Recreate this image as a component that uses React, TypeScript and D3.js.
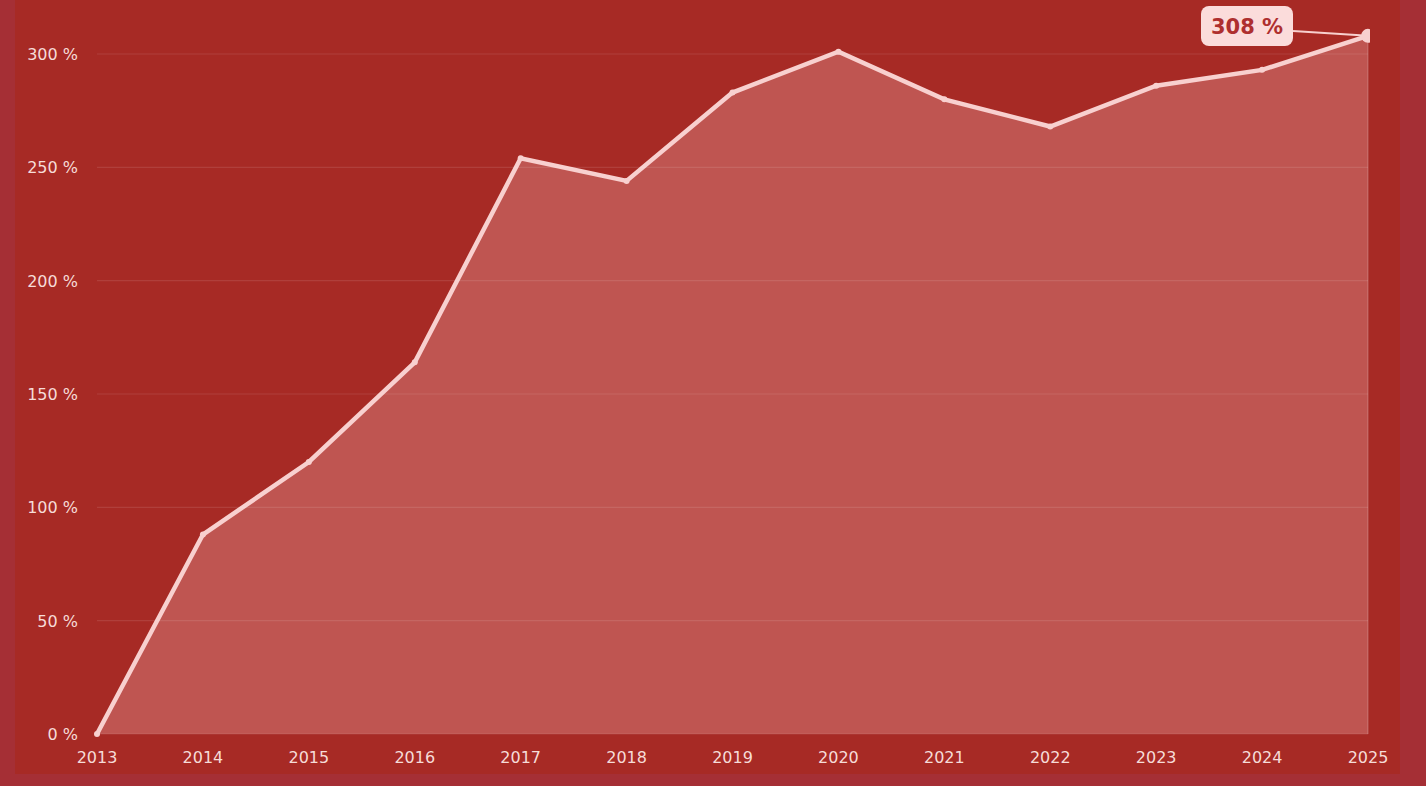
import React, { useEffect, useRef } from 'react';
import * as d3 from 'd3';

const years = [2013, 2014, 2015, 2016, 2017, 2018, 2019, 2020, 2021, 2022, 2023, 2024, 2025];
const growth = [0, 88, 120, 164, 254, 244, 283, 301, 280, 268, 286, 293, 308];
const yTicks = [0, 50, 100, 150, 200, 250, 300];

const GrowthChart: React.FC = () => {
  const svgRef = useRef<SVGSVGElement>(null);

  useEffect(() => {
    if (!svgRef.current) return;
    document.body.style.margin = '0';

    const width = 1426;
    const height = 786;
    const margin = { top: 37, right: 58, bottom: 52, left: 97 };

    const svg = d3.select(svgRef.current);
    svg.selectAll('*').remove();
    svg.attr('width', width).attr('height', height);

    // outer frame + inner panel
    svg.append('rect').attr('width', width).attr('height', height).attr('fill', '#a52f35');
    svg.append('rect')
      .attr('x', 15).attr('y', 0)
      .attr('width', 1385).attr('height', 774)
      .attr('fill', '#a72a25');

    const data = years.map((y, i) => ({ year: y, value: growth[i] }));

    const x = d3.scaleLinear()
      .domain([years[0], years[years.length - 1]])
      .range([margin.left, width - margin.right]);

    const y = d3.scaleLinear()
      .domain([0, 300])
      .range([height - margin.bottom, 54]);

    svg.append('clipPath').attr('id', 'plot-clip')
      .append('rect')
      .attr('x', margin.left - 4).attr('y', 0)
      .attr('width', x.range()[1] - margin.left + 6)
      .attr('height', y(0) + 4);

    const plot = svg.append('g').attr('clip-path', 'url(#plot-clip)');

    const area = d3.area<{ year: number; value: number }>()
      .x(d => x(d.year))
      .y0(y(0))
      .y1(d => y(d.value));

    plot.append('path')
      .datum(data)
      .attr('d', area)
      .attr('fill', '#bf5551');

    // right edge of area
    plot.append('line')
      .attr('x1', x(2025)).attr('x2', x(2025))
      .attr('y1', y(growth[growth.length - 1])).attr('y2', y(0))
      .attr('stroke', '#ffffff').attr('stroke-opacity', 0.12).attr('stroke-width', 2);

    // grid
    svg.append('g')
      .selectAll('line')
      .data(yTicks)
      .enter()
      .append('line')
      .attr('x1', margin.left)
      .attr('x2', x(2025))
      .attr('y1', d => y(d))
      .attr('y2', d => y(d))
      .attr('stroke', '#ffffff')
      .attr('stroke-opacity', 0.1)
      .attr('stroke-width', 1.2);

    const line = d3.line<{ year: number; value: number }>()
      .x(d => x(d.year))
      .y(d => y(d.value));

    plot.append('path')
      .datum(data)
      .attr('d', line)
      .attr('fill', 'none')
      .attr('stroke', '#f8d0cf')
      .attr('stroke-width', 4.5)
      .attr('stroke-linejoin', 'miter');

    plot.append('g')
      .selectAll('circle')
      .data(data.slice(0, -1))
      .enter()
      .append('circle')
      .attr('cx', d => x(d.year))
      .attr('cy', d => y(d.value))
      .attr('r', 3)
      .attr('fill', '#f8d0cf');

    const last = data[data.length - 1];
    plot.append('circle')
      .attr('cx', x(last.year))
      .attr('cy', y(last.value))
      .attr('r', 7)
      .attr('fill', '#f8d0cf');

    // y labels
    svg.append('g')
      .selectAll('text')
      .data(yTicks)
      .enter()
      .append('text')
      .attr('x', 78)
      .attr('y', d => y(d))
      .attr('dy', '0.38em')
      .attr('text-anchor', 'end')
      .attr('font-family', 'DejaVu Sans, sans-serif')
      .attr('font-size', 16)
      .attr('fill', '#f6dcd8')
      .text(d => `${d} %`);

    // x labels
    svg.append('g')
      .selectAll('text')
      .data(years)
      .enter()
      .append('text')
      .attr('x', d => x(d))
      .attr('y', 763)
      .attr('text-anchor', 'middle')
      .attr('font-family', 'DejaVu Sans, sans-serif')
      .attr('font-size', 16)
      .attr('fill', '#f6dcd8')
      .text(d => String(d));

    // callout
    const bx = 1201, by = 6, bw = 92, bh = 40;
    svg.append('line')
      .attr('x1', bx + bw).attr('y1', by + bh / 2 + 5)
      .attr('x2', x(last.year)).attr('y2', y(last.value))
      .attr('stroke', '#f8d0cf').attr('stroke-width', 2);
    svg.append('rect')
      .attr('x', bx).attr('y', by)
      .attr('width', bw).attr('height', bh)
      .attr('rx', 8)
      .attr('fill', '#fbdcdb');
    svg.append('text')
      .attr('x', bx + bw / 2)
      .attr('y', by + bh / 2)
      .attr('dy', '0.36em')
      .attr('text-anchor', 'middle')
      .attr('font-family', 'DejaVu Sans, sans-serif')
      .attr('font-weight', 'bold')
      .attr('font-size', 21)
      .attr('fill', '#ae2f2f')
      .text(`${last.value} %`);
  }, []);

  return <svg ref={svgRef} style={{ display: 'block' }}></svg>;
};

export default function App() {
  return <GrowthChart />;
}
